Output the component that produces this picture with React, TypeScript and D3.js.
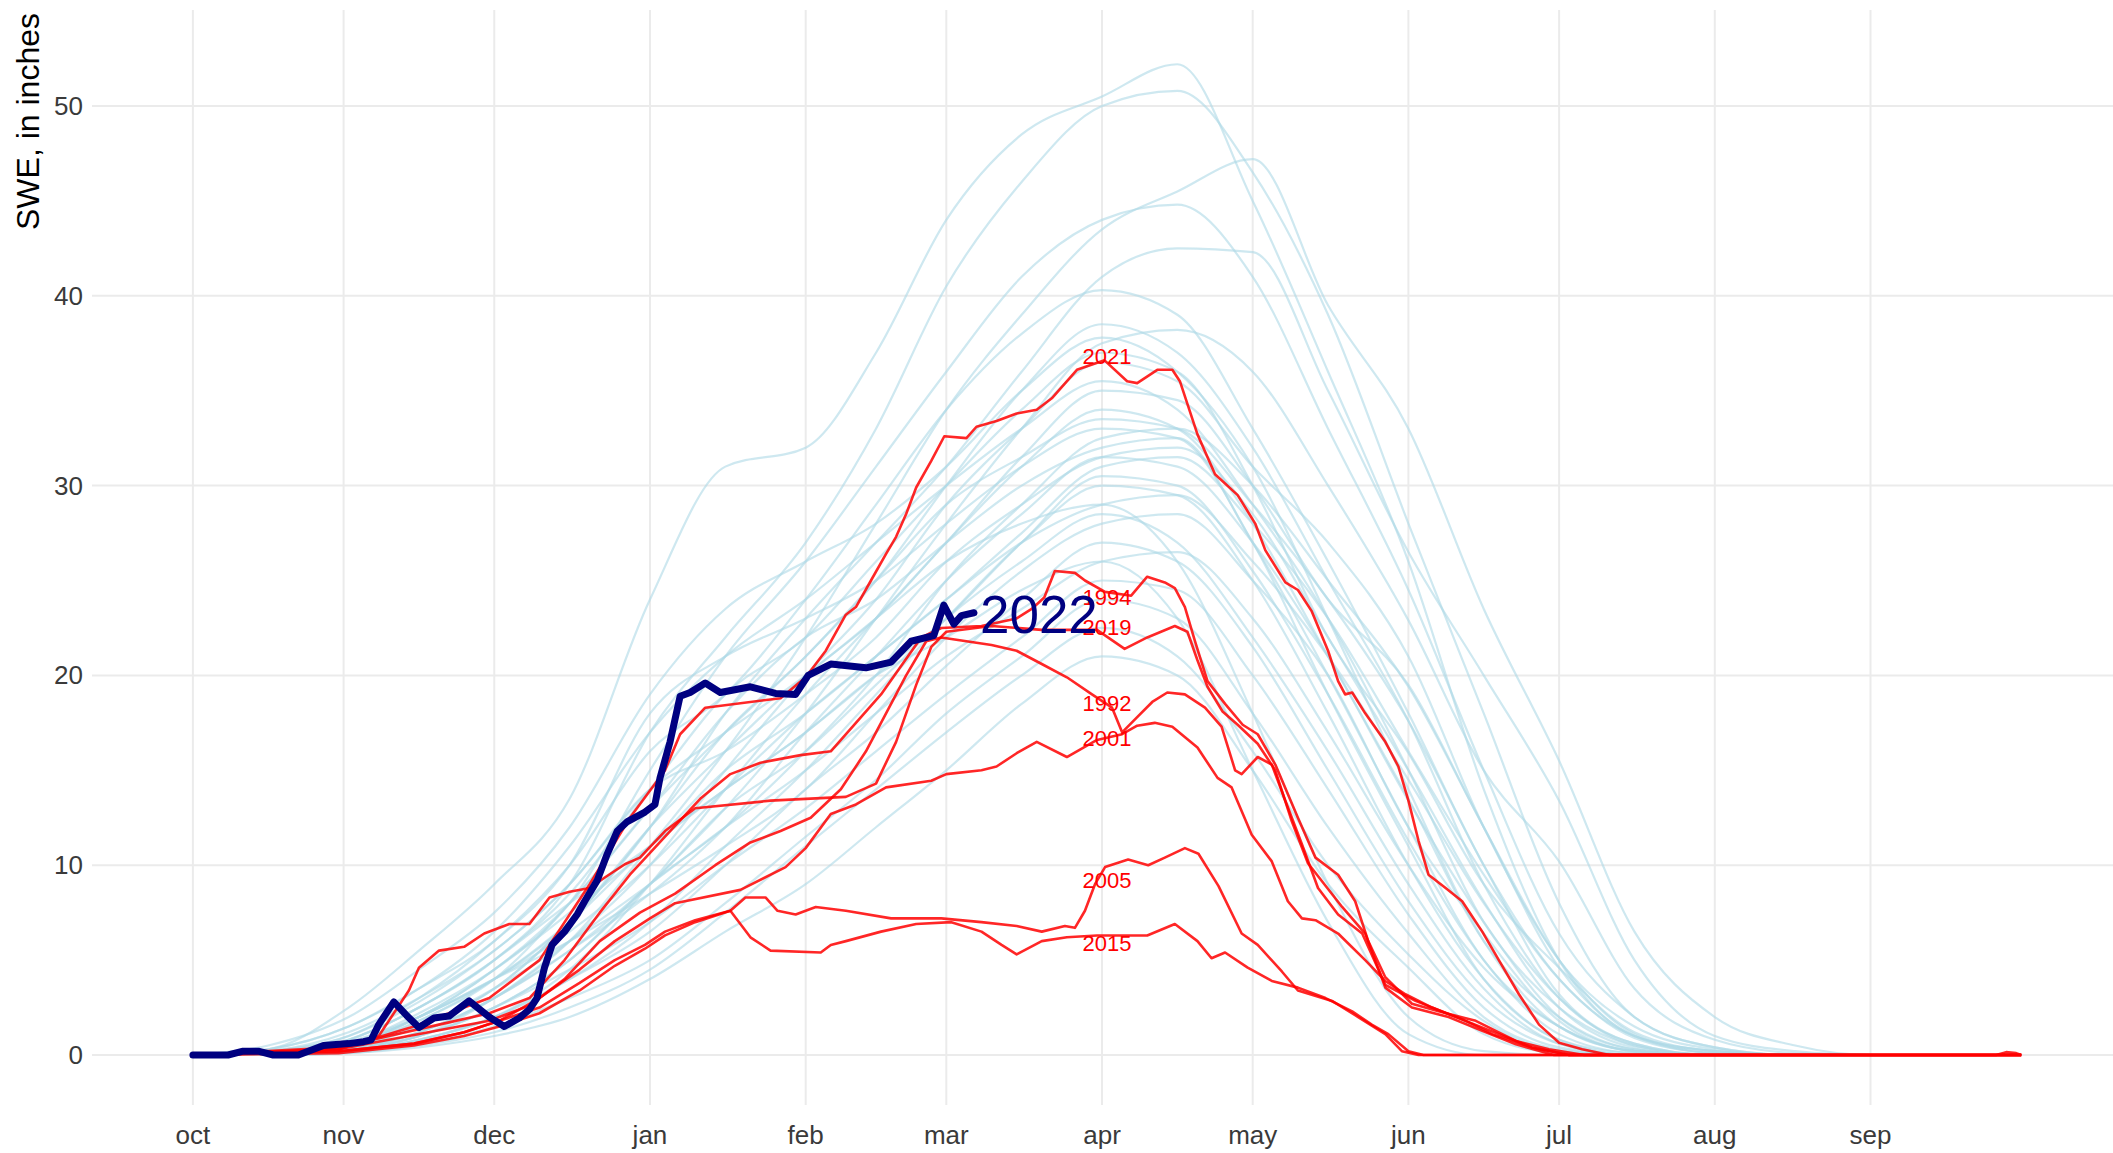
import React, { useEffect } from 'react';
import * as d3 from 'd3';

const W = 2113;
const H = 1153;

const monthLabels = ['oct', 'nov', 'dec', 'jan', 'feb', 'mar', 'apr', 'may', 'jun', 'jul', 'aug', 'sep'];
const monthBreaks = [1, 31, 61, 92, 123, 151, 182, 212, 243, 273, 304, 335];
const yTicks = [0, 10, 20, 30, 40, 50];

// knot days for the historical (light blue) years
const blueDays = [1, 16, 32, 46, 61, 76, 92, 107, 123, 137, 151, 166, 182, 197, 212, 227, 243, 258, 273, 288, 304, 320, 335, 365];

const blueYears: number[][] = [
  [0, 0.3, 2.5, 5.5, 9, 13.5, 24, 31, 32, 37, 44, 48.5, 50.5, 52.2, 45, 36, 26, 14, 5, 1, 0.2, 0, 0, 0],
  [0, 0, 0.8, 2.5, 5, 9, 17, 22, 27, 33, 40.5, 46, 50, 50.8, 46.5, 39, 28, 18, 8, 2, 0.4, 0, 0, 0],
  [0, 0, 0.3, 1.2, 3, 6, 11, 16, 22, 28, 34, 39, 43.5, 45.5, 47.2, 39.5, 33, 23.5, 15.5, 6.5, 2.0, 0.5, 0, 0],
  [0, 0.1, 0.5, 2, 4.5, 8, 15, 21, 26, 31, 36, 41, 44, 44.8, 41, 33, 24.5, 15, 6.4, 2, 0.4, 0, 0, 0],
  [0, 0, 0.4, 1.5, 3.5, 7, 12, 18, 23, 27, 31, 36, 41, 42.5, 42.3, 35, 26.5, 20, 13.4, 5, 1, 0.2, 0, 0],
  [0, 0.2, 1, 3, 6, 10, 16, 19, 24, 29, 34, 38, 40.3, 39, 33, 26, 18, 10, 4, 1, 0.2, 0, 0, 0],
  [0, 0, 0.5, 2, 4, 7, 12, 17, 21, 25, 30, 35, 38.5, 37, 32, 25, 17.6, 9, 3, 0.6, 0, 0, 0, 0],
  [0, 0, 0.2, 1, 2.5, 5, 9, 13, 18, 23, 28, 33, 37.5, 38.2, 36, 30, 22.9, 15, 10.2, 3.5, 0.8, 0.1, 0, 0],
  [0, 0.1, 0.8, 2.5, 5, 8.5, 14, 19, 22, 26, 30, 34, 37, 36, 30, 22, 15.9, 9, 4.6, 1.2, 0.2, 0, 0, 0],
  [0, 0, 0.3, 1, 3, 6, 10, 15, 20, 24, 29, 33, 36.5, 35.5, 31, 27, 21, 12, 5, 1.5, 0.3, 0, 0, 0],
  [0, 0.3, 1.5, 3.5, 6.5, 11, 17, 21, 24, 27, 30, 33, 35.5, 34, 29, 23, 15, 7, 2.5, 0.5, 0, 0, 0, 0],
  [0, 0, 0.2, 0.8, 2, 4.5, 9, 14, 19, 23, 27, 31.5, 35, 34.5, 30, 24, 19.5, 12, 5, 1.1, 0.1, 0, 0, 0],
  [0, 0, 0.5, 1.5, 3.5, 7, 12, 16, 20, 23, 27, 31, 34, 33, 28, 21, 13.5, 6, 2, 0.3, 0, 0, 0, 0],
  [0, 0.1, 0.6, 2, 4.5, 8, 13, 17, 21, 25, 29, 31.5, 33.5, 33, 29, 24, 17.6, 10, 3.2, 0.6, 0, 0, 0, 0],
  [0, 0, 0.2, 1, 2.5, 5, 9, 12, 16, 20, 25, 29, 32.5, 33, 30, 25, 19.4, 12, 4.6, 1, 0.1, 0, 0, 0],
  [0, 0, 0.4, 1.8, 4, 8, 13, 18, 22, 24, 27, 30, 32, 32.5, 27, 20, 12, 5, 1.5, 0.2, 0, 0, 0, 0],
  [0, 0.2, 1.2, 3, 5.5, 9, 14, 16, 19, 22, 26, 29, 31.5, 32, 28.5, 22, 15, 8.1, 2.5, 0.4, 0, 0, 0, 0],
  [0, 0, 0.3, 1.2, 3, 5.5, 8.5, 12, 17, 21, 25, 28.5, 31.5, 31, 27, 21, 13.4, 7, 2, 0.3, 0, 0, 0, 0],
  [0, 0, 0.5, 2, 4, 6.5, 10, 14, 18, 21, 24, 27.5, 31, 31.5, 28, 23, 16, 9.5, 4, 0.9, 0.1, 0, 0, 0],
  [0, 0.1, 0.8, 2.5, 5, 8, 11, 14, 17, 20, 23, 27, 30.5, 30, 25.5, 19, 11.3, 5, 1.1, 0.1, 0, 0, 0, 0],
  [0, 0, 0.2, 0.8, 2, 4, 7, 11, 15, 19, 23, 27, 30, 29.5, 25, 18, 10, 4, 0.8, 0.1, 0, 0, 0, 0],
  [0, 0, 0.6, 2.2, 4.5, 7.5, 11, 15, 18, 21, 24, 27, 29, 29.5, 26, 21, 14.5, 8, 3, 0.5, 0, 0, 0, 0],
  [0, 0, 0.3, 1.2, 3, 5.5, 9, 13, 16, 19.5, 23, 26, 28.5, 27, 22, 16, 9, 3.5, 0.6, 0, 0, 0, 0, 0],
  [0, 0.1, 0.7, 2, 4, 6, 8.5, 11, 14, 18, 22, 25.5, 28, 28.5, 25, 20, 12, 6.4, 1.8, 0.2, 0, 0, 0, 0],
  [0, 0, 0.2, 0.8, 2, 4, 6.5, 10, 14, 17, 20.5, 24, 27, 26, 21.5, 15, 8.1, 3, 0.6, 0, 0, 0, 0, 0],
  [0, 0, 0.4, 1.5, 3.5, 6, 9, 12, 15, 18, 21, 23.5, 26, 26.5, 23, 17, 10, 4.6, 1.5, 0.2, 0, 0, 0, 0],
  [0, 0, 0.3, 1, 2.5, 4.5, 7, 10, 13, 16, 19, 22, 25, 24.5, 20, 14, 7.4, 2.5, 0.4, 0, 0, 0, 0, 0],
  [0, 0, 0.2, 0.6, 1.5, 3, 5, 8, 11.5, 14.5, 18, 21, 24, 23, 18, 12, 6.4, 2, 0.3, 0, 0, 0, 0, 0],
  [0, 0, 0.1, 0.5, 1.2, 2.5, 4.5, 7.5, 11, 14, 17, 20, 22.5, 21, 16, 10, 5.3, 1.8, 0.2, 0, 0, 0, 0, 0],
  [0, 0, 0.1, 0.4, 1, 2, 4, 6.5, 9, 12, 15, 18.5, 21, 20, 15, 9, 4.6, 1.1, 0.1, 0, 0, 0, 0, 0],
  [0, 0, 0.5, 1.8, 4, 7, 11, 14, 17, 20, 22, 24.5, 26, 23, 15, 7, 1.1, 0, 0, 0, 0, 0, 0, 0],
  [0, 0.2, 1, 2.8, 5.5, 9, 14, 17, 20, 23, 26, 28, 29, 26, 18, 9, 2.0, 0.2, 0, 0, 0, 0, 0, 0],
  [0, 0.5, 2, 4.5, 7.5, 12, 19, 23.5, 26, 28, 31, 35, 37.8, 36, 31, 23, 14, 6, 1.5, 0.2, 0, 0, 0, 0],
  [0, 0.3, 1.5, 3.5, 6, 10, 18, 21, 23, 25, 28, 31, 33, 32.5, 27, 19, 11, 4, 0.8, 0, 0, 0, 0, 0],
];

// highlighted (red) years: [day of water year, SWE]
const swe2021: [number, number][] = [
  [1, 0], [30, 0.3], [45, 1.5], [60, 3.0], [70, 5.0], [80, 9.0], [88, 12.5], [95, 15.0], [98, 16.9], [103, 18.3],
  [118, 18.8], [123, 19.9], [127, 21.3], [131, 23.2], [133, 23.6], [136, 25.0], [139, 26.4], [141, 27.3], [143, 28.5],
  [145, 29.9], [148, 31.3], [150.6, 32.6], [155, 32.5], [157, 33.1], [161, 33.4], [165, 33.8], [169, 34.0], [172, 34.6],
  [177, 36.1], [182.5, 36.6], [187, 35.5], [189, 35.4], [193, 36.1], [196, 36.1], [197.5, 35.5], [201, 32.7],
  [204.5, 30.6], [209, 29.5], [212.5, 28.0], [214.5, 26.6], [218.5, 24.9], [221, 24.5], [223.7, 23.4], [227, 21.3],
  [229, 19.7], [230.4, 19.0], [231.8, 19.1], [234.4, 18.0], [238.4, 16.5], [241, 15.2], [243, 13.4], [245, 11.3],
  [247, 9.5], [250.4, 8.8], [253.7, 8.1], [257.7, 6.5], [261, 5.0], [265, 3.2], [269, 1.6], [273, 0.65], [277.6, 0.3],
  [283, 0], [360, 0], [362, 0.15], [364, 0.1], [365, 0],
];
const swe1994: [number, number][] = [
  [1, 0], [30, 0.4], [40, 1.0], [50, 1.6], [60, 2.2], [68, 3.0], [75, 5.0], [82, 7.5], [88, 9.5], [95, 11.5],
  [102, 13.5], [108, 14.8], [114, 15.4], [122, 15.8], [128, 16.0], [133, 17.5], [138, 19.0], [142, 20.5], [146, 22.0],
  [150, 22.5], [158, 22.6], [165, 23.0], [168, 23.5], [170.5, 24.1], [172.6, 25.5], [176.6, 25.4], [178.6, 25.0],
  [182.6, 24.4], [187.8, 24.2], [191, 25.2], [194.5, 24.9], [196.5, 24.6], [198.5, 23.6], [200.5, 21.8], [203, 19.7],
  [206.5, 18.5], [210, 17.4], [213, 16.9], [216.5, 15.3], [221, 12.5], [224.5, 10.4], [229, 9.5], [232.4, 8.1],
  [235, 6.0], [238.4, 4.1], [243.7, 2.7], [249, 2.3], [256.4, 1.8], [264.4, 0.74], [271, 0.3], [278, 0], [365, 0],
];
const swe2019: [number, number][] = [
  [1, 0], [30, 0.3], [38, 1.0], [44, 3.4], [46, 4.6], [50, 5.5], [55, 5.7], [59, 6.4], [64, 6.9], [68, 6.9],
  [70, 7.6], [72, 8.3], [76, 8.6], [80, 8.8], [83, 9.35], [87, 10.05], [90, 10.4], [95, 11.8], [101, 13.0],
  [116, 13.4], [131, 13.6], [137, 14.3], [141, 16.5], [145, 19.5], [148, 21.5], [151, 22.3], [160, 22.6],
  [170, 22.4], [181, 22.4], [186.5, 21.4], [191, 22.0], [196.5, 22.6], [199, 22.3], [201, 20.8], [203, 19.4],
  [206, 18.1], [209, 17.4], [213, 16.4], [216.5, 15.0], [219.8, 12.3], [223, 10.1], [229.8, 7.8], [234.4, 6.4],
  [238.4, 3.55], [243.7, 2.5], [251, 2.0], [257.7, 1.27], [264.4, 0.56], [272, 0], [365, 0],
];
const swe1992: [number, number][] = [
  [1, 0], [30, 0.3], [40, 0.8], [50, 1.3], [60, 1.8], [68, 2.6], [75, 4.0], [82, 6.0], [90, 7.5], [97, 8.5],
  [105, 10.0], [112, 11.2], [118, 11.8], [124, 12.5], [130, 14.0], [135, 16.0], [139, 18.0], [143, 20.0],
  [147, 21.8], [150, 22.0], [155, 21.8], [160, 21.6], [165, 21.3], [170, 20.6], [175, 19.9], [180, 19.0],
  [184, 18.3], [186, 17.0], [189, 17.8], [192, 18.6], [195, 19.1], [198.5, 19.0], [202.5, 18.3], [205.8, 17.3],
  [208.5, 15.0], [209.8, 14.8], [213, 15.7], [215.8, 15.3], [218.5, 13.4], [221.8, 11.1], [225, 8.8], [229, 7.4],
  [233.8, 6.4], [238.4, 3.7], [244.4, 2.85], [254.4, 1.8], [261, 1.1], [267.6, 0.4], [275, 0], [365, 0],
];
const swe2001: [number, number][] = [
  [1, 0], [30, 0.2], [45, 0.6], [55, 1.2], [62, 1.8], [70, 3.0], [78, 4.5], [85, 6.0], [92, 7.2], [97, 8.0],
  [110, 8.7], [119, 9.9], [123, 10.9], [128, 12.7], [133, 13.2], [139, 14.1], [148, 14.45], [151, 14.8], [158, 15.0],
  [161, 15.2], [165, 15.9], [169, 16.5], [175, 15.7], [181, 16.6], [186, 16.9], [189, 17.35], [192.5, 17.5],
  [196, 17.3], [201, 16.2], [205, 14.6], [207.8, 14.1], [211.8, 11.6], [215.8, 10.2], [219, 8.1], [221.8, 7.2],
  [224.5, 7.1], [229, 6.4], [234.4, 5.0], [238.4, 3.9], [242.4, 3.2], [247.7, 2.5], [254.4, 1.8], [259.7, 1.1],
  [267.6, 0.4], [275, 0], [365, 0],
];
const swe2005: [number, number][] = [
  [1, 0], [30, 0.2], [45, 0.6], [55, 1.2], [62, 1.8], [70, 2.5], [78, 3.8], [85, 5.0], [91, 5.8], [95, 6.5],
  [101, 7.1], [108, 7.6], [111, 8.3], [115, 8.3], [117.4, 7.6], [121, 7.4], [125, 7.8], [131, 7.6], [140, 7.2],
  [150, 7.2], [158, 7.0], [165, 6.8], [170, 6.5], [174.6, 6.8], [176.6, 6.7], [178.6, 7.6], [180.6, 9.0],
  [182.6, 9.9], [187.2, 10.3], [191.2, 10.0], [194.5, 10.4], [198.5, 10.9], [201.2, 10.6], [205.2, 8.9],
  [209.8, 6.4], [213, 5.8], [217.8, 4.4], [221, 3.4], [227.8, 2.85], [233, 2.0], [238.4, 1.1], [241.7, 0.2],
  [245, 0], [365, 0],
];
const swe2015: [number, number][] = [
  [1, 0], [30, 0.1], [45, 0.5], [55, 1.0], [62, 1.5], [70, 2.2], [78, 3.4], [85, 4.7], [91, 5.6], [95, 6.3],
  [101, 7.0], [108, 7.6], [110, 6.9], [112, 6.2], [116, 5.5], [126, 5.4], [128, 5.8], [131, 6.0], [138, 6.5],
  [145, 6.9], [152, 7.0], [158, 6.5], [162, 5.8], [165, 5.3], [170, 6.0], [175, 6.2], [181, 6.3], [191, 6.3],
  [196.5, 6.9], [201, 6.0], [203.8, 5.1], [206.5, 5.4], [211, 4.6], [215.8, 3.9], [221, 3.55], [226.5, 3.0],
  [231.8, 2.3], [235.7, 1.6], [239, 1.1], [243, 0.2], [246, 0], [365, 0],
];

const redYears = [1992, 1994, 2001, 2005, 2015, 2019, 2021];
const redSeries = [swe1992, swe1994, swe2001, swe2005, swe2015, swe2019, swe2021];
const redLabelValues = [18.5, 24.1, 16.7, 9.2, 5.85, 22.5, 36.8];
const redLabelDay = 183;

// current year
const swe2022: [number, number][] = [
  [1, 0], [8, 0], [11, 0.2], [14, 0.2], [17, 0], [22, 0], [27, 0.5], [32, 0.6], [35, 0.7], [36.5, 0.8],
  [38, 1.6], [41, 2.8], [43.5, 2.1], [46, 1.45], [49, 1.95], [52, 2.05], [56, 2.85], [60, 2.0], [63, 1.5],
  [66, 1.95], [68, 2.4], [69.5, 3.0], [71, 4.6], [72.5, 5.8], [75, 6.5], [77.5, 7.4], [79, 8.1], [81.5, 9.2],
  [83.5, 10.6], [85.5, 11.8], [87.5, 12.3], [91, 12.8], [93, 13.2], [94, 14.6], [96, 16.5], [98, 18.9],
  [100, 19.1], [103, 19.6], [106, 19.1], [112, 19.4], [117, 19.05], [121, 19.0], [123.5, 20.0], [128, 20.6],
  [135, 20.4], [140, 20.7], [144, 21.8], [148.5, 22.1], [150.5, 23.7], [152.5, 22.7], [154, 23.15], [156.5, 23.3],
];
const currentYear = '2022';
const currentLabelValue = 23.2;

const yTitle = 'SWE, in inches';

export default function App() {
  useEffect(() => {
    document.body.style.margin = '0';
  }, []);

  const panel = { left: 92, right: W, top: 10, bottom: 1105 };
  const x = d3.scaleLinear().domain([1, 365]).range([192.9, 2021.2]);
  const y = d3.scaleLinear().domain([0, 50]).range([1055, 106]);

  const pairLine = d3
    .line<[number, number]>()
    .x((d) => x(d[0]))
    .y((d) => y(d[1]));
  const blueLine = d3
    .line<number>()
    .x((_, i) => x(blueDays[i]))
    .y((d) => y(d))
    .curve(d3.curveMonotoneX);

  const font = "'Liberation Sans', Arial, sans-serif";
  const last = swe2022[swe2022.length - 1];

  return (
    <svg width={W} height={H} style={{ display: 'block', background: '#fff' }} fontFamily={font}>
      {/* grid */}
      <g>
        {yTicks.map((t) => (
          <line key={'gy' + t} x1={panel.left} x2={panel.right} y1={y(t)} y2={y(t)} stroke="#EBEBEB" strokeWidth={2} />
        ))}
        {monthBreaks.map((b) => (
          <line key={'gx' + b} x1={x(b)} x2={x(b)} y1={panel.top} y2={panel.bottom} stroke="#EBEBEB" strokeWidth={2} />
        ))}
      </g>
      {/* historical years */}
      <g fill="none" stroke="#ADD8E6" strokeOpacity={0.6} strokeWidth={2.2} strokeLinejoin="round">
        {blueYears.map((vals, i) => (
          <path key={'b' + i} d={blueLine(vals) || ''} />
        ))}
      </g>
      {/* highlighted years */}
      <g fill="none" stroke="#FF0000" strokeOpacity={0.85} strokeWidth={2.6} strokeLinejoin="round">
        {redSeries.map((s, i) => (
          <path key={'r' + redYears[i]} d={pairLine(s) || ''} />
        ))}
      </g>
      {/* current year */}
      <path d={pairLine(swe2022) || ''} fill="none" stroke="#000080" strokeWidth={7} strokeLinejoin="round" strokeLinecap="round" />
      {/* labels for red years */}
      <g fill="#FF0000" fontSize={22} textAnchor="middle">
        {redYears.map((yr, i) => (
          <text key={'l' + yr} x={x(redLabelDay)} y={y(redLabelValues[i])} dominantBaseline="central">
            {yr}
          </text>
        ))}
      </g>
      <text x={x(last[0]) + 6} y={y(currentLabelValue)} fill="#000080" fontSize={53} dominantBaseline="central">
        {currentYear}
      </text>
      {/* y axis */}
      <g fill="#3a3a3a" fontSize={26} textAnchor="end">
        {yTicks.map((t) => (
          <text key={'yt' + t} x={83} y={y(t)} dominantBaseline="central">
            {t}
          </text>
        ))}
      </g>
      {/* x axis */}
      <g fill="#3a3a3a" fontSize={26} textAnchor="middle">
        {monthLabels.map((m, i) => (
          <text key={'xt' + m} x={x(monthBreaks[i])} y={1135} dominantBaseline="central">
            {m}
          </text>
        ))}
      </g>
      <text transform={`translate(28, 13) rotate(-90)`} textAnchor="end" dominantBaseline="central" fontSize={32} fill="#000">
        {yTitle}
      </text>
    </svg>
  );
}
